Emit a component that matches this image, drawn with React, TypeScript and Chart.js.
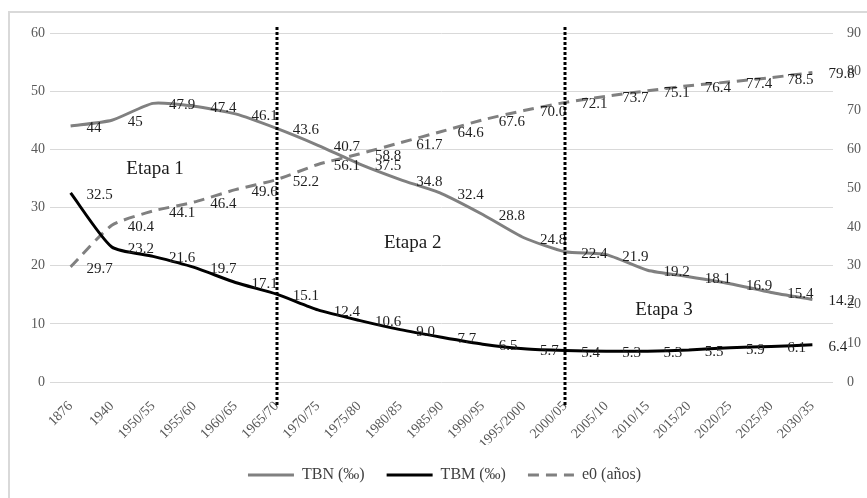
import React, { useEffect, useRef } from "react";
import { Chart, registerables } from "chart.js";

Chart.register(...registerables);

const categories = [
  "1876", "1940", "1950/55", "1955/60", "1960/65", "1965/70", "1970/75",
  "1975/80", "1980/85", "1985/90", "1990/95", "1995/2000", "2000/05",
  "2005/10", "2010/15", "2015/20", "2020/25", "2025/30", "2030/35",
];
const tbn = [44, 45, 47.9, 47.4, 46.1, 43.6, 40.7, 37.5, 34.8, 32.4, 28.8, 24.8, 22.4, 21.9, 19.2, 18.1, 16.9, 15.4, 14.2];
const tbm = [32.5, 23.2, 21.6, 19.7, 17.1, 15.1, 12.4, 10.6, 9.0, 7.7, 6.5, 5.7, 5.4, 5.3, 5.3, 5.5, 5.9, 6.1, 6.4];
const e0 = [29.7, 40.4, 44.1, 46.4, 49.6, 52.2, 56.1, 58.8, 61.7, 64.6, 67.6, 70.0, 72.1, 73.7, 75.1, 76.4, 77.4, 78.5, 79.8];
const seriesNames = ["TBN (‰)", "TBM (‰)", "e0 (años)"];
const stageNames = ["Etapa 1", "Etapa 2", "Etapa 3"];
const stageCategoryPos = [2.05, 8.3, 14.4];
const stageValuePos = [36.6, 23.9, 12.4];
const dividerCategories = ["1965/70", "2000/05"];

const FONT = "'Liberation Serif', 'Times New Roman', serif";

const dataLabelPlugin = {
  id: "dataLabels",
  afterDatasetsDraw(chart: any) {
    const ctx = chart.ctx;
    ctx.save();
    ctx.font = `15px ${FONT}`;
    ctx.fillStyle = "#1f1f1f";
    ctx.textAlign = "left";
    ctx.textBaseline = "middle";
    chart.data.datasets.forEach((ds: any, i: number) => {
      const meta = chart.getDatasetMeta(i);
      meta.data.forEach((pt: any, j: number) => {
        const v = ds.data[j];
        const s = ds.fixedDecimals ? v.toFixed(1) : String(v);
        ctx.fillText(s, pt.x + 16, pt.y + 2);
      });
    });
    ctx.restore();
  },
};

const overlayPlugin = {
  id: "overlay",
  afterDraw(chart: any) {
    const ctx = chart.ctx;
    const xs = chart.scales.x;
    const ys = chart.scales.y;
    const area = chart.chartArea;
    ctx.save();
    ctx.strokeStyle = "#000";
    ctx.lineWidth = 3;
    ctx.setLineDash([3, 2]);
    dividerCategories.forEach((c) => {
      const x = Math.round(xs.getPixelForValue(categories.indexOf(c)));
      ctx.beginPath();
      ctx.moveTo(x, area.top - 6);
      ctx.lineTo(x, area.bottom + 25);
      ctx.stroke();
    });
    ctx.setLineDash([]);
    ctx.font = `19px ${FONT}`;
    ctx.fillStyle = "#1a1a1a";
    ctx.textAlign = "center";
    ctx.textBaseline = "middle";
    stageNames.forEach((name, i) => {
      ctx.fillText(name, xs.getPixelForValue(stageCategoryPos[i]), ys.getPixelForValue(stageValuePos[i]));
    });
    ctx.restore();
  },
};

export default function App() {
  const ref = useRef<HTMLCanvasElement | null>(null);

  useEffect(() => {
    if (!ref.current) return;
    const tickFont = { family: FONT, size: 14 };
    const chart = new Chart(ref.current, {
      type: "line",
      data: {
        labels: categories,
        datasets: [
          {
            label: seriesNames[0],
            data: tbn,
            borderColor: "#808080",
            backgroundColor: "#808080",
            borderWidth: 3,
            pointRadius: 0,
            tension: 0.2,
            yAxisID: "y",
          } as any,
          {
            label: seriesNames[1],
            data: tbm,
            borderColor: "#000000",
            backgroundColor: "#000000",
            borderWidth: 3,
            pointRadius: 0,
            tension: 0.2,
            yAxisID: "y",
            fixedDecimals: true,
          } as any,
          {
            label: seriesNames[2],
            data: e0,
            borderColor: "#808080",
            backgroundColor: "#808080",
            borderWidth: 3,
            borderDash: [11, 7],
            pointRadius: 0,
            tension: 0.2,
            yAxisID: "y1",
            fixedDecimals: true,
          } as any,
        ],
      },
      options: {
        responsive: false,
        animation: false,
        devicePixelRatio: 1,
        layout: { padding: { top: 33, left: 22, right: 0, bottom: 5 } },
        plugins: {
          tooltip: { enabled: false },
          legend: {
            position: "bottom",
            labels: {
              usePointStyle: true,
              pointStyle: "line",
              pointStyleWidth: 46,
              boxHeight: 16,
              padding: 22,
              color: "#404040",
              font: { family: FONT, size: 16 },
              generateLabels: (ch: any) => {
                const items = Chart.defaults.plugins.legend.labels.generateLabels(ch);
                return items.map((it: any) => {
                  const ds: any = ch.data.datasets[it.datasetIndex];
                  return {
                    ...it,
                    pointStyle: "line",
                    lineDash: ds.borderDash || [],
                    lineWidth: 3,
                    strokeStyle: ds.borderColor,
                    fillStyle: ds.borderColor,
                  };
                });
              },
            },
          },
        },
        scales: {
          x: {
            offset: true,
            grid: { display: false },
            border: { display: false },
            ticks: {
              autoSkip: false,
              minRotation: 45,
              maxRotation: 45,
              color: "#595959",
              font: tickFont,
              padding: 8,
            },
            afterFit: (s: any) => { s.height = 63; },
          },
          y: {
            position: "left",
            min: 0,
            max: 60,
            grid: { color: "#d9d9d9", lineWidth: 1, drawTicks: false },
            border: { display: false },
            ticks: { stepSize: 10, color: "#595959", font: tickFont, padding: 5 },
            afterFit: (s: any) => { s.width = 28; },
          },
          y1: {
            position: "right",
            min: 0,
            max: 90,
            grid: { drawOnChartArea: false, drawTicks: false },
            border: { display: false },
            ticks: { stepSize: 10, color: "#595959", font: tickFont, padding: 14 },
            afterFit: (s: any) => { s.width = 34; },
          },
        },
      } as any,
      plugins: [dataLabelPlugin, overlayPlugin],
    });
    return () => chart.destroy();
  }, []);

  return (
    <div style={{ position: "fixed", left: 0, top: 0, width: 867, height: 498, overflow: "hidden", background: "#fff" }}>
      <div style={{ position: "absolute", left: 8, top: 11, width: 1000, height: 1000, border: "2px solid #d9d9d9" }} />
      <canvas ref={ref} width={867} height={498} style={{ position: "absolute", left: 0, top: 0, width: 867, height: 498 }} />
    </div>
  );
}
